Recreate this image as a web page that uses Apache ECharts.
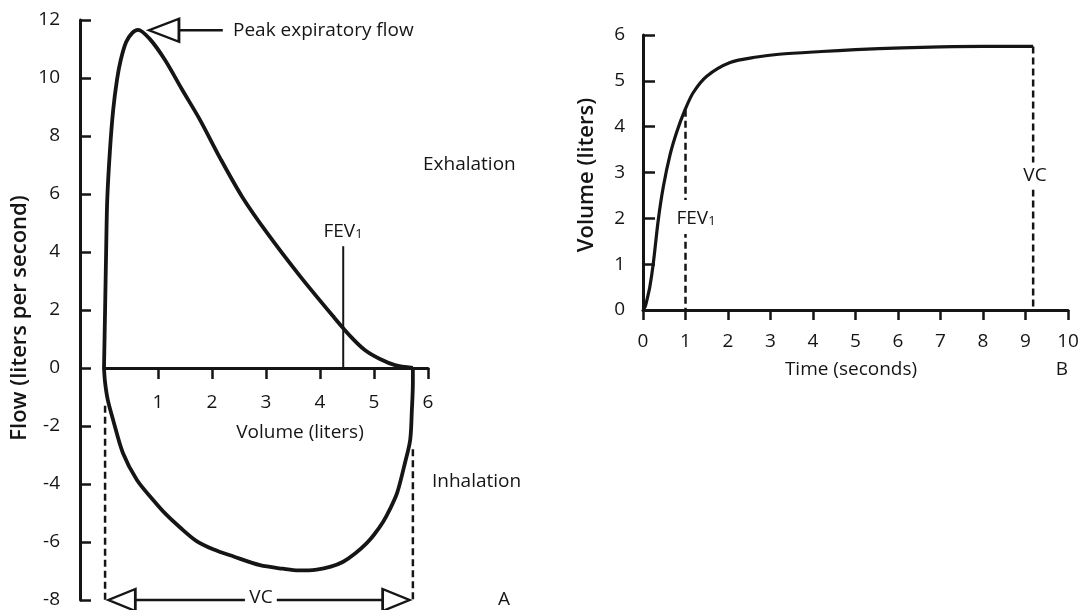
<!DOCTYPE html>
<html>
<head>
<meta charset="utf-8">
<script src="https://cdn.jsdelivr.net/npm/echarts@6/dist/echarts.min.js"></script>
<style>
  html, body { margin: 0; padding: 0; background: #fff; }
  #chart { width: 1084px; height: 610px; }
</style>
</head>
<body>
<div id="chart"></div>
<script>
// A: flow-volume loop (volume in liters, flow in liters per second)
const expVolume = [0, 0.02, 0.04, 0.06, 0.11, 0.17, 0.24, 0.31, 0.41, 0.52, 0.63, 0.85, 1.13, 1.44, 1.78, 2.15, 2.56, 3.02, 3.63, 4.24, 4.56, 4.83, 5.11, 5.39, 5.72]
const expFlow = [0, 2, 4.07, 5.8, 7.5, 8.9, 9.93, 10.62, 11.24, 11.55, 11.66, 11.34, 10.62, 9.62, 8.55, 7.24, 5.9, 4.66, 3.17, 1.79, 1.1, 0.62, 0.31, 0.1, 0]
const inhVolume = [5.72, 5.72, 5.7, 5.67, 5.57, 5.43, 5.3, 5.17, 5.0, 4.87, 4.65, 4.43, 4.2, 3.94, 3.6, 3.31, 2.89, 2.4, 2.02, 1.7, 1.41, 1.15, 0.91, 0.61, 0.35, 0.17, 0.07, 0.02, 0]
const inhFlow = [0, -0.5, -1.5, -2.48, -3.3, -4.3, -4.85, -5.3, -5.75, -6.03, -6.4, -6.68, -6.85, -6.95, -6.98, -6.92, -6.8, -6.5, -6.25, -5.95, -5.5, -5.05, -4.55, -3.86, -2.93, -1.8, -1.1, -0.5, 0]

// B: volume-time curve
const timeSec = [0, 0.05, 0.1, 0.16, 0.24, 0.36, 0.48, 0.64, 0.8, 0.99, 1.18, 1.5, 2.05, 2.68, 3.2, 4.2, 5.0, 6.1, 7.0, 8.0, 9.18]
const timeVolume = [0, 0.07, 0.25, 0.5, 1.0, 1.97, 2.7, 3.4, 3.9, 4.37, 4.74, 5.1, 5.4, 5.52, 5.58, 5.64, 5.68, 5.72, 5.74, 5.75, 5.75]

// annotation anchors (data units)
const fev1VolumeA = 4.43
const fev1TopA = 4.2
const vcVolumeA = [0.02, 5.72]
const vcDashTopA = [-1.3, -2.8]
const peakFlowA = 11.65
const fev1TimeB = 1.0
const fev1ValueB = 4.37
const vcTimeB = 9.18
const vcValueB = 5.75

const zip = (a, b) => a.map((v, i) => [v, b[i]])
const ink = '#151515'
const font = '"Open Sans", "DejaVu Sans", sans-serif'

const chart = echarts.init(document.getElementById('chart'))

function seg (pts, axis, width, dashed) {
  return {
    type: 'line',
    xAxisIndex: axis,
    yAxisIndex: axis,
    data: pts,
    showSymbol: false,
    clip: false,
    silent: true,
    lineStyle: { color: ink, width: width, type: dashed ? [7, 4] : 'solid' },
    z: 3
  }
}

function txt (x, y, text, opt) {
  return Object.assign({
    type: 'text',
    x: x,
    y: y,
    z: 100,
    style: {
      text: text,
      font: '19px ' + font,
      fill: ink,
      align: 'left',
      verticalAlign: 'middle',
      textAlign: 'left',
      textVerticalAlign: 'middle'
    }
  }, opt || {})
}

function centered (x, y, text, extra) {
  const t = txt(x, y, text)
  t.style.align = 'center'
  t.style.textAlign = 'center'
  Object.assign(t.style, extra || {})
  return t
}

const fevRich = {
  a: { fontSize: 19, fontFamily: font, color: ink, lineHeight: 22, verticalAlign: 'bottom' },
  b: { fontSize: 13, fontFamily: font, color: ink, lineHeight: 12, verticalAlign: 'bottom' }
}

const lineSt = { color: ink, width: 3 }
const tickSt = { color: ink, width: 2.5 }
const labelSt = { fontSize: 19, fontFamily: font, color: ink }

const option = {
  animation: false,
  backgroundColor: '#fff',
  grid: [
    { left: 104, top: 20, width: 324, height: 580 },
    { left: 643, top: 35, width: 425, height: 275 },
    // carries the volume axis of A along flow = 0
    { left: 104, top: 20, width: 324, height: 348 }
  ],
  xAxis: [
    { type: 'value', gridIndex: 0, min: 0, max: 6, interval: 1, show: false },
    {
      type: 'value', gridIndex: 1, min: 0, max: 10, interval: 1,
      splitLine: { show: false },
      axisLine: { show: true, onZero: false, lineStyle: lineSt },
      axisTick: { show: true, length: 10, lineStyle: tickSt },
      axisLabel: Object.assign({ margin: 22 }, labelSt)
    },
    {
      type: 'value', gridIndex: 2, min: 0, max: 6, interval: 1,
      splitLine: { show: false },
      axisLine: { show: true, onZero: false, lineStyle: lineSt },
      axisTick: { show: true, length: 11, lineStyle: tickSt },
      axisLabel: Object.assign({ margin: 25, formatter: v => (v === 0 ? '' : v) }, labelSt)
    }
  ],
  yAxis: [
    {
      type: 'value', gridIndex: 0, min: -8, max: 12, interval: 2, offset: 24,
      splitLine: { show: false },
      axisLine: { show: true, onZero: false, lineStyle: lineSt },
      axisTick: { show: true, inside: true, length: 11, lineStyle: tickSt },
      axisLabel: Object.assign({ margin: 20 }, labelSt)
    },
    {
      type: 'value', gridIndex: 1, min: 0, max: 6, interval: 1,
      splitLine: { show: false },
      axisLine: { show: true, onZero: false, lineStyle: lineSt },
      axisTick: { show: true, inside: true, length: 12, lineStyle: tickSt },
      axisLabel: Object.assign({ margin: 18 }, labelSt)
    },
    { type: 'value', gridIndex: 2, min: 0, max: 1, show: false }
  ],
  series: [
    Object.assign(seg(zip(expVolume, expFlow), 0, 3.8), { smooth: 0.3, name: 'Exhalation' }),
    Object.assign(seg(zip(inhVolume, inhFlow), 0, 3.8), { smooth: 0.3, name: 'Inhalation' }),
    seg([[fev1VolumeA, 0], [fev1VolumeA, fev1TopA]], 0, 2),
    seg([[vcVolumeA[0], vcDashTopA[0]], [vcVolumeA[0], -8]], 0, 2.5, true),
    seg([[vcVolumeA[1], vcDashTopA[1]], [vcVolumeA[1], -8]], 0, 2.5, true),
    // arrow shafts
    seg([[1.11, peakFlowA], [2.2, peakFlowA]], 0, 2.5),
    seg([[0.33, -8], [2.61, -8]], 0, 2.5),
    seg([[3.2, -8], [5.41, -8]], 0, 2.5),
    // B
    Object.assign(seg(zip(timeSec, timeVolume), 1, 3.2), { smooth: 0.3, name: 'Volume' }),
    seg([[fev1TimeB, fev1ValueB], [fev1TimeB, 0]], 1, 2.5, true),
    seg([[vcTimeB, vcValueB], [vcTimeB, 0]], 1, 2.5, true),
    // hollow arrow heads
    {
      type: 'scatter',
      xAxisIndex: 0,
      yAxisIndex: 0,
      clip: false,
      silent: true,
      symbol: 'triangle',
      symbolSize: [23, 30],
      itemStyle: { color: '#fff', borderColor: ink, borderWidth: 2.5, opacity: 1 },
      z: 5,
      data: [
        { value: [1.11, peakFlowA], symbolRotate: 90 },
        { value: [0.33, -8], symbolRotate: 90, symbolSize: [22, 27] },
        { value: [5.41, -8], symbolRotate: -90, symbolSize: [22, 27] }
      ]
    }
  ],
  graphic: [
    txt(233, 31, 'Peak expiratory flow'),
    txt(423, 165, 'Exhalation'),
    txt(432, 482, 'Inhalation'),
    centered(504, 600, 'A'),
    centered(343, 230, '{a|FEV}{b|1}', { rich: fevRich }),
    centered(300, 433, 'Volume (liters)'),
    centered(261, 598, 'VC', { backgroundColor: '#fff', padding: [2, 3] }),
    Object.assign(centered(0, 0, 'Flow (liters per second)', { font: '600 22px ' + font }), { x: 20, y: 318, rotation: Math.PI / 2 }),
    Object.assign(centered(0, 0, 'Volume (liters)', { font: '600 22px ' + font }), { x: 587, y: 175, rotation: Math.PI / 2 }),
    centered(851, 370, 'Time (seconds)'),
    centered(1062, 370, 'B'),
    centered(696, 217, '{a|FEV}{b|1}', { rich: fevRich, backgroundColor: '#fff', padding: [6, 2] }),
    centered(1035, 176, 'VC', { backgroundColor: '#fff', padding: [4, 2] })
  ]
}

chart.setOption(option)
</script>
</body>
</html>
